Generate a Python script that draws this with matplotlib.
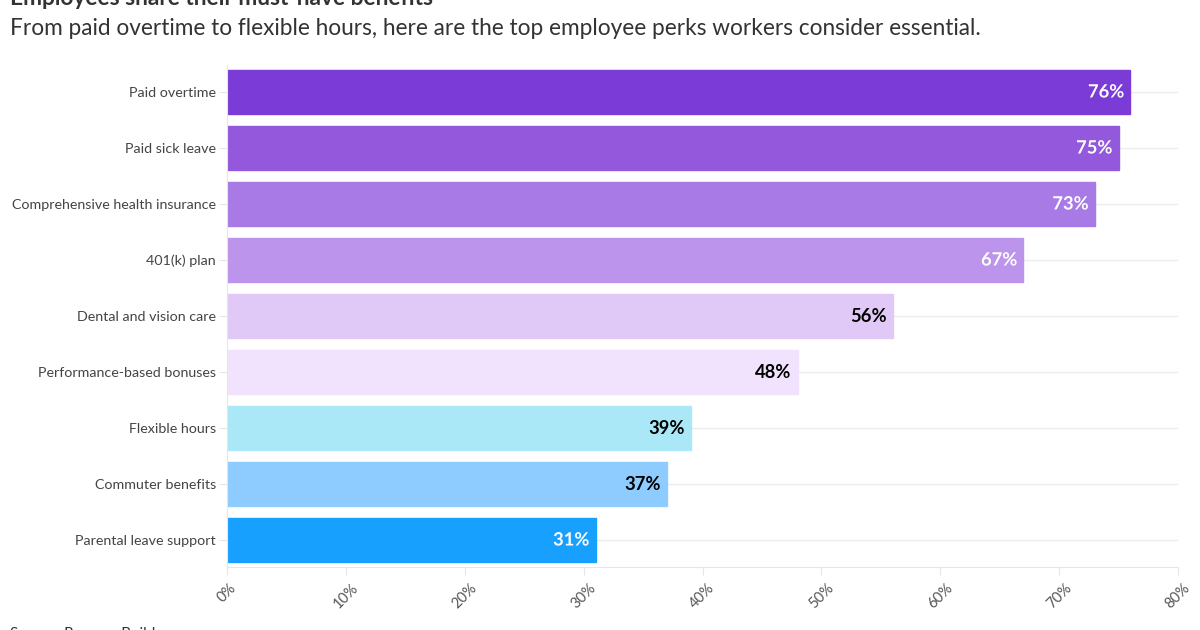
import matplotlib.pyplot as plt
import matplotlib.patheffects as pe
from matplotlib.ticker import FuncFormatter

plt.rcParams['font.family'] = ['Lato', 'DejaVu Sans']

# dados
categorias = ['Paid overtime', 'Paid sick leave', 'Comprehensive health insurance',
              '401(k) plan', 'Dental and vision care', 'Performance-based bonuses',
              'Flexible hours', 'Commuter benefits', 'Parental leave support']
valores = [76, 75, 73, 67, 56, 48, 39, 37, 31]
cores = ['#7a3bd6', '#9358dc', '#a87ae5', '#bd94eb', '#e1c9f7',
         '#f1e3fd', '#abe8f7', '#8ecbff', '#18a0ff']
cor_texto = ['white', 'white', 'white', 'white', 'black',
             'black', 'black', 'black', 'white']
ticks_x = [0, 10, 20, 30, 40, 50, 60, 70, 80]

fig = plt.figure(figsize=(12, 6.3), dpi=100)
ax = fig.add_axes([227 / 1200, 1 - 567 / 630, 951 / 1200, 502 / 630])

y = list(range(len(categorias)))
for yi in y:
    ax.axhline(yi, color='#ececec', lw=1, zorder=0)

ax.barh(y, valores, height=0.786, color=cores, edgecolor=cores,
        linewidth=1, zorder=2)

for yi, v, c, tc in zip(y, valores, cores, cor_texto):
    t = ax.text(v - 0.5, yi, f'{v}%', ha='right', va='center', fontsize=13.2,
                fontweight='bold', color=tc, zorder=3)
    if tc == 'white':
        t.set_path_effects([pe.withStroke(linewidth=2.5, foreground=c)])

ax.set_xlim(0, 80)
ax.set_ylim(len(categorias) - 1 + 0.482, -0.482)
ax.set_yticks(y)
ax.set_yticklabels(categorias, fontsize=10.25, color='#444444')
ax.set_xticks(ticks_x)
ax.xaxis.set_major_formatter(FuncFormatter(lambda v, p: f'{v:.0f}%'))
for lbl in ax.get_xticklabels():
    lbl.set_rotation(45)
    lbl.set_fontsize(10.5)
    lbl.set_color('#555555')

ax.tick_params(axis='y', length=6, color='#e6e6e6', pad=2)
ax.tick_params(axis='x', length=6, color='#e6e6e6', pad=4)
for s in ['top', 'right']:
    ax.spines[s].set_visible(False)
ax.spines['left'].set_color('#e6e6e6')
ax.spines['bottom'].set_color('#e6e6e6')

fig.text(10 / 1200, 1 - 5 / 630, 'Employees share their must-have benefits',
         fontsize=16.4, fontweight='bold', color='#333333', va='baseline')
fig.text(10 / 1200, 1 - 35 / 630,
         'From paid overtime to flexible hours, here are the top employee perks workers consider essential.',
         fontsize=16.3, color='#333333', va='baseline')
fig.text(10 / 1200, 1 - 627 / 630, 'Source: Resume Builder', fontsize=11,
         color='#333333', va='top')

fig.savefig('out.png', dpi=100)
